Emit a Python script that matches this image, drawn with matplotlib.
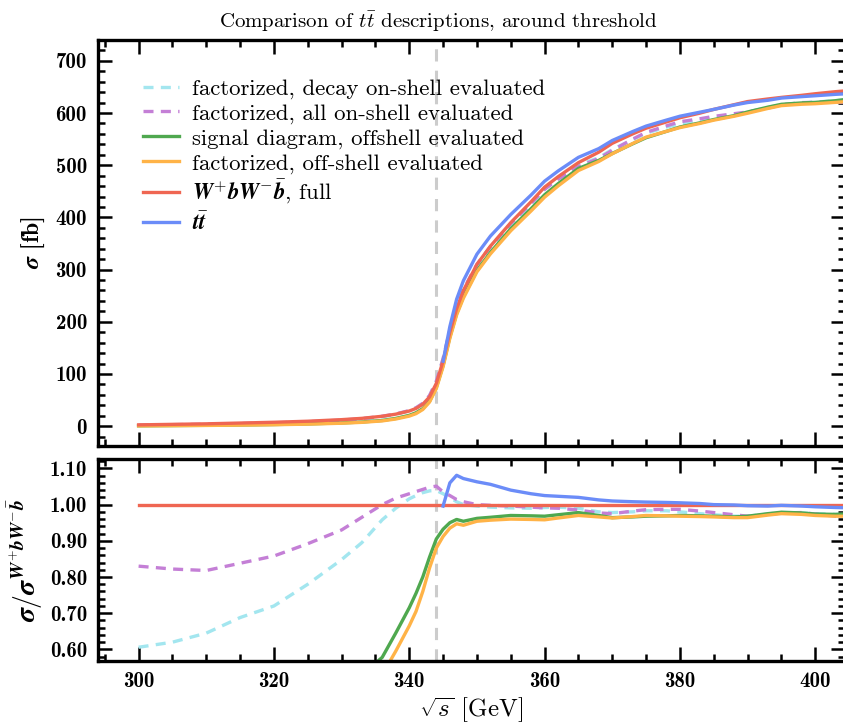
import numpy as np
import matplotlib
matplotlib.use("Agg")
import matplotlib.pyplot as plt
from matplotlib.ticker import MultipleLocator, FormatStrFormatter

plt.rcParams['font.family'] = ['cmr10', 'DejaVu Serif']
plt.rcParams['mathtext.fontset'] = 'custom'
plt.rcParams['mathtext.rm'] = 'cmr10'
plt.rcParams['mathtext.it'] = 'cmmi10'
plt.rcParams['mathtext.bf'] = 'cmb10'
plt.rcParams['mathtext.bfit'] = 'STIXGeneral:italic:bold'
plt.rcParams['mathtext.fallback'] = 'cm'
plt.rcParams['axes.unicode_minus'] = False

# ---------------- data ----------------
sqrt_s = [300, 305, 310, 315, 320, 325, 330, 333, 336, 338, 340, 341, 342, 343, 344,
          345, 346, 347, 348, 350, 352, 355, 358, 360, 362, 365, 368, 370, 373, 375,
          378, 380, 383, 385, 388, 390, 393, 395, 398, 400, 403, 405]

# full W+ b W- bbar cross section [fb]
sigma_full = [2.5, 3.5, 4.5, 6, 7.5, 9.5, 12.5, 15, 19, 23, 29, 34, 42, 56, 82,
              125, 180, 225, 260, 310, 345, 390, 430, 458, 478, 505, 525, 542, 560, 571,
              583, 591, 600, 607, 616, 622, 627, 630, 634, 637, 641, 643]

# ratios to the full result
ratio_decay_os = [0.606, 0.620, 0.645, 0.688, 0.720, 0.780, 0.848, 0.895, 0.958, 0.990, 1.016, 1.025, 1.033, 1.038, 1.039,
                  1.030, 1.019, 1.008, 1.000, 0.996, 0.993, 0.991, 0.990, 0.992, 0.993, 0.990, 0.980, 0.978, 0.980, 0.983,
                  0.983, 0.980, 0.975, 0.972, 0.968, 0.968, 0.974, 0.978, 0.977, 0.975, 0.973, 0.972]
ratio_all_os = [0.830, 0.822, 0.818, 0.838, 0.858, 0.892, 0.930, 0.965, 1.000, 1.018, 1.030, 1.036, 1.042, 1.048, 1.051,
                1.035, 1.025, 1.014, 1.008, 1.000, 0.998, 0.996, 0.993, 0.991, 0.990, 0.985, 0.977, 0.975, 0.982, 0.986,
                0.987, 0.987, 0.982, 0.978, 0.972, 0.968, 0.972, 0.977, 0.978, 0.974, 0.968, 0.966]
ratio_signal = [0.30, 0.33, 0.36, 0.39, 0.42, 0.46, 0.50, 0.53, 0.578, 0.645, 0.715, 0.755, 0.800, 0.855, 0.905,
                0.932, 0.950, 0.959, 0.954, 0.962, 0.965, 0.970, 0.969, 0.968, 0.972, 0.978, 0.970, 0.964, 0.966, 0.968,
                0.969, 0.970, 0.969, 0.968, 0.966, 0.968, 0.975, 0.979, 0.977, 0.974, 0.973, 0.975]
ratio_fact_offshell = [0.25, 0.28, 0.31, 0.34, 0.37, 0.41, 0.45, 0.49, 0.53, 0.595, 0.665, 0.705, 0.760, 0.825, 0.880,
                       0.912, 0.935, 0.947, 0.943, 0.954, 0.957, 0.960, 0.959, 0.958, 0.963, 0.970, 0.966, 0.963, 0.967, 0.970,
                       0.969, 0.968, 0.967, 0.966, 0.964, 0.964, 0.971, 0.975, 0.973, 0.970, 0.968, 0.968]
nan = float('nan')
ratio_ttbar = [nan, nan, nan, nan, nan, nan, nan, nan, nan, nan, nan, nan, nan, nan, nan,
               0.996, 1.060, 1.081, 1.072, 1.063, 1.056, 1.040, 1.030, 1.025, 1.023, 1.020, 1.013, 1.010, 1.008, 1.007,
               1.006, 1.005, 1.003, 1.000, 0.999, 0.997, 0.996, 0.998, 0.996, 0.994, 0.992, 0.991]

threshold = 344

BW = r"\boldsymbol{W}^{+}\boldsymbol{b}\boldsymbol{W}^{-}\bar{\boldsymbol{b}}"
labels = ["factorized, decay on-shell evaluated",
          "factorized, all on-shell evaluated",
          "signal diagram, offshell evaluated",
          "factorized, off-shell evaluated",
          "$" + BW + "$, full",
          r"$\boldsymbol{t}\bar{\boldsymbol{t}}$"]

x = np.array(sqrt_s, dtype=float)
full = np.array(sigma_full, dtype=float)
ratios = [np.array(r, dtype=float) for r in
          (ratio_decay_os, ratio_all_os, ratio_signal, ratio_fact_offshell,
           [1.0] * len(sqrt_s), ratio_ttbar)]
colors = ['#a3e6ef', '#c47fd6', '#4fa84f', '#ffb347', '#ef6652', '#6b8cf8']
styles = ['--', '--', '-', '-', '-', '-']

# ---------------- figure ----------------
fig = plt.figure(figsize=(8.43, 7.26), dpi=100)
L = 98 / 843
W = (845 - 98) / 843
ax1 = fig.add_axes([L, 1 - 446 / 726, W, 406 / 726])
ax2 = fig.add_axes([L, 1 - 661 / 726, W, 202 / 726])

lw = 2.4
for r, c, ls, lab in zip(ratios, colors, styles, labels):
    dash = dict(dashes=(3, 2.2)) if ls == '--' else {}
    ax1.plot(x, full * r, color=c, lw=lw, ls=ls, label=lab, **dash)
    ax2.plot(x, r, color=c, lw=lw, ls=ls, **dash)

ax1.set_ylim(-38, 740)
ax1.yaxis.set_major_locator(MultipleLocator(100))
ax1.yaxis.set_minor_locator(MultipleLocator(20))
ax2.set_ylim(0.568, 1.126)
ax2.yaxis.set_major_locator(MultipleLocator(0.1))
ax2.yaxis.set_minor_locator(MultipleLocator(0.02))
ax2.yaxis.set_major_formatter(FormatStrFormatter('%.2f'))

for ax in (ax1, ax2):
    ax.axvline(threshold, color='#cccccc', lw=2.2, ls='--', dashes=(4, 3), zorder=0)
    ax.set_xlim(294, 404.4)
    ax.xaxis.set_major_locator(MultipleLocator(20))
    ax.xaxis.set_minor_locator(MultipleLocator(5))
    ax.tick_params(which='both', direction='in', top=True, right=True, width=1.8)
    ax.tick_params(which='major', length=10, pad=8)
    ax.tick_params(which='minor', length=5)
    for sp in ax.spines.values():
        sp.set_linewidth(2.4)
ax1.tick_params(labelbottom=False)
fig.canvas.draw()
for ax in (ax1, ax2):
    for t in ax.get_xticklabels() + ax.get_yticklabels():
        t.set_fontfamily('cmb10')
        t.set_fontsize(15)

ax1.set_ylabel(r"$\boldsymbol{\sigma}$ [fb]", fontsize=17, labelpad=6, fontfamily='cmb10')
ax1.set_title(r"Comparison of $t\bar{t}$ descriptions, around threshold", fontsize=15, pad=9,
              x=(438 - 98) / 747)

ax2.set_ylabel(r"$\boldsymbol{\sigma}/\boldsymbol{\sigma}^{" + BW + "}$", fontsize=20, labelpad=3)
ax2.set_xlabel(r"$\sqrt{s}$ [GeV]", fontsize=18, labelpad=3)

leg = ax1.legend(loc='upper left', bbox_to_anchor=(0.06, 0.905), frameon=False, fontsize=16.4,
                 handlelength=1.6, labelspacing=0.2, handletextpad=0.57, borderaxespad=0,
                 borderpad=0)

fig.savefig("out.png", dpi=100)
